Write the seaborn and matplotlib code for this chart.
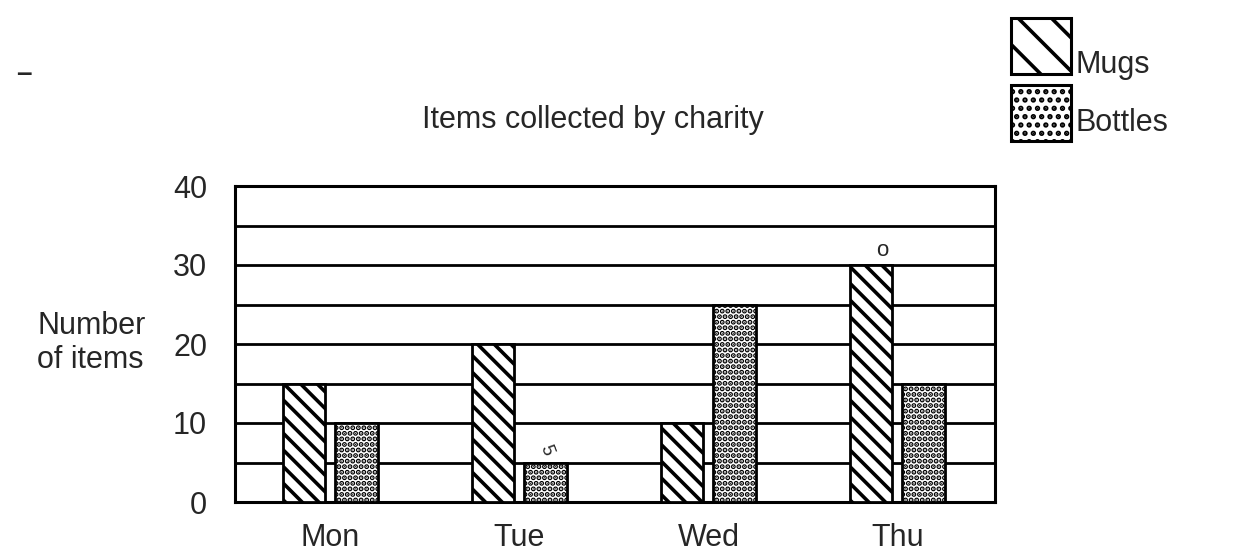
import pandas as pd
import matplotlib.pyplot as plt
import seaborn as sns
from matplotlib.patches import Rectangle

days = ['Mon', 'Tue', 'Wed', 'Thu']
mugs = [15, 20, 10, 30]
bottles = [10, 5, 25, 15]
y_major = [0, 10, 20, 30, 40]
y_minor = [5, 15, 25, 35]
series = ['Mugs', 'Bottles']
hatches = ['\\\\', '...']
legend_hatches = ['\\', '..']

df = pd.DataFrame({
    'Day': days * 2,
    'Items': mugs + bottles,
    'Type': ['Mugs'] * len(days) + ['Bottles'] * len(days),
})

W, H = 1250, 557


def fx(px):
    return px / W


def fy(py):
    return 1 - py / H


sns.set_style('white')
plt.rcParams['font.family'] = ['Liberation Sans', 'DejaVu Sans']
plt.rcParams['hatch.linewidth'] = 2.6
plt.rcParams['hatch.color'] = 'black'

fig = plt.figure(figsize=(12.5, 5.57), dpi=100)
ax = fig.add_axes([fx(235), fy(502), fx(760), 316 / H])

sns.barplot(data=df, x='Day', y='Items', hue='Type', palette=['white', 'white'],
            edgecolor='black', linewidth=2, width=0.56, gap=0.19,
            legend=False, ax=ax, zorder=3)

for container, h in zip(ax.containers, hatches):
    for bar in container:
        bar.set_hatch(h)

ax.set_ylim(0, 40)
ax.set_xlim(-0.505, 3.516)
ax.set_yticks(y_major)
ax.set_yticks(y_minor, minor=True)
ax.grid(True, which='both', axis='y', color='black', linewidth=2)
ax.set_axisbelow(True)
ax.tick_params(axis='both', which='both', length=0, labelsize=22)
ax.tick_params(axis='y', pad=20)
ax.tick_params(axis='x', pad=15)
for s in ax.spines.values():
    s.set_color('black')
    s.set_linewidth(2.2)
ax.set_xlabel('')
ax.set_ylabel('')

# handwritten marks on the worksheet
ax.text(1.14, 6.6, '5', fontsize=13, ha='center', va='center', rotation=-70)
ax.text(2.92, 31.8, 'o', fontsize=16, ha='center', va='center')

fig.text(fx(37), fy(343), 'Number\nof items', fontsize=22, ha='left', va='center',
         multialignment='left')
fig.text(fx(422), fy(128), 'Items collected by charity', fontsize=22,
         ha='left', va='baseline')

# legend drawn as boxes at the top right
box_tops = [18, 85]
text_base = [73, 131]
for name, h, top, base in zip(series, legend_hatches, box_tops, text_base):
    fig.add_artist(Rectangle((fx(1011), fy(top + 56)), fx(60), 56 / H,
                             transform=fig.transFigure, facecolor='white',
                             edgecolor='black', linewidth=2.2, hatch=h))
    fig.text(fx(1075), fy(base), name, fontsize=22, ha='left', va='baseline')

fig.text(fx(16), fy(74), '\u2013', fontsize=20, ha='left', va='center', fontweight='bold')

fig.savefig('out.png', dpi=100)
